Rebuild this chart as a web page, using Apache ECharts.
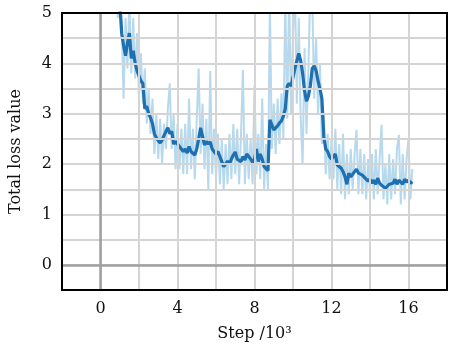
<!DOCTYPE html>
<html>
<head>
<meta charset="utf-8">
<script src="https://cdn.jsdelivr.net/npm/echarts@6/dist/echarts.min.js"></script>
<style>
  html, body { margin: 0; padding: 0; background: #fff; }
  #chart { width: 454px; height: 347px; }
</style>
</head>
<body>
<div id="chart"></div>
<script>
// step in thousands, loss values
const smoothStart = 1.0
const smoothLoss = [
  5.2, 4.6, 4.35, 4.15, 4.4, 4.6, 4.1, 4.25, 4.0, 3.85,
  3.75, 3.65, 3.6, 3.1, 3.15, 3.0, 2.92, 2.8, 2.6, 2.52,
  2.47, 2.42, 2.48, 2.5, 2.65, 2.72, 2.6, 2.65, 2.4, 2.45,
  2.42, 2.35, 2.32, 2.25, 2.3, 2.22, 2.35, 2.25, 2.28, 2.18,
  2.3, 2.5, 2.72, 2.55, 2.38, 2.45, 2.4, 2.44, 2.3, 2.25,
  2.2, 2.25, 2.15, 2.05, 1.95, 1.93, 2.06, 2.0, 2.1, 2.18,
  2.24, 2.1, 2.12, 2.05, 2.15, 2.08, 2.2, 2.18, 2.1, 2.04,
  2.1, 2.3, 2.05, 2.2, 2.1, 1.95, 1.92, 1.87, 2.88, 2.78,
  2.68, 2.72, 2.76, 2.82, 2.86, 2.95, 3.1, 3.55, 3.6, 3.55,
  3.72, 3.9, 4.05, 4.2, 4.05, 3.8, 3.45, 3.25, 3.35, 3.55,
  3.9, 3.95, 3.85, 3.65, 3.5, 3.3, 2.55, 2.3, 2.25, 2.15,
  2.1, 2.15, 2.2, 1.98, 2.0, 1.92, 1.85, 1.75, 1.6, 1.82,
  1.75, 1.72, 1.85, 1.9, 1.82, 1.8, 1.78, 1.75, 1.7, 1.66,
  1.7, 1.62, 1.68, 1.6, 1.72, 1.62, 1.58, 1.6, 1.52, 1.5,
  1.6, 1.58, 1.62, 1.7, 1.6, 1.68, 1.65, 1.6, 1.7, 1.64,
  1.68, 1.62, 1.65
]

const rawStart = 0.6
const rawLoss = [
  5.3, 5.0, 5.6, 4.9,
  5.5, 4.8, 3.3, 4.9, 3.9, 5.3, 3.8, 4.9, 3.7, 4.6,
  3.3, 4.2, 3.2, 3.9, 2.8, 3.5, 2.6, 3.3, 2.2, 3.0,
  2.1, 2.9, 2.0, 2.8, 2.3, 3.1, 3.6, 2.3, 3.0, 1.9,
  2.8, 1.9, 2.7, 1.8, 2.8, 1.8, 3.3, 1.9, 2.7, 1.7,
  2.9, 3.9, 2.2, 3.2, 1.9, 2.9, 1.5, 3.85, 1.8, 2.7,
  1.7, 2.6, 1.6, 2.5, 1.5, 2.4, 1.6, 2.6, 1.7, 2.8,
  1.8, 2.7, 1.6, 2.6, 3.87, 1.6, 2.6, 1.7, 2.5, 1.6,
  3.57, 1.8, 2.6, 1.7, 3.3, 1.5, 2.4, 1.5, 5.2, 2.3,
  3.2, 2.2, 3.3, 2.4, 3.4, 2.5, 5.3, 2.9, 5.4, 3.0,
  4.6, 5.5, 3.2, 4.9, 2.9, 2.0, 4.3, 2.6, 3.9, 5.5,
  5.3, 3.3, 4.5, 3.0, 4.0, 2.4, 3.0, 1.8, 2.6, 1.7,
  2.5, 1.7, 2.7, 1.5, 2.4, 1.4, 2.6, 1.3, 2.2, 1.4,
  2.3, 1.5, 2.2, 2.68, 1.4, 2.3, 1.4, 2.2, 1.3, 2.1,
  1.4, 2.2, 1.3, 2.3, 1.4, 2.1, 2.78, 1.3, 2.0, 1.2,
  2.2, 1.3, 2.1, 1.4, 2.3, 2.58, 1.2, 2.2, 1.3, 2.1,
  2.5, 1.3, 1.9
]

const toPairs = (start, vals) =>
  vals.map((v, i) => [+(start + i * 0.1).toFixed(2), v])

const chart = echarts.init(document.getElementById("chart"))
const font = "DejaVu Serif"
const textStyle = { fontFamily: font, fontSize: 16, color: "#111" }
const frameLine = { show: true, onZero: false, lineStyle: { color: "#000", width: 2 } }
const gridLine = { lineStyle: { color: "#d4d4d4", width: 2 } }

const option = {
  backgroundColor: "#fff",
  animation: false,
  grid: { left: 57, right: 7, top: 13, bottom: 57 },
  xAxis: [
    {
      type: "value",
      min: -2,
      max: 18,
      interval: 2,
      name: "Step /10³",
      nameLocation: "middle",
      nameGap: 36,
      nameTextStyle: textStyle,
      axisLine: frameLine,
      axisTick: { show: false },
      axisLabel: {
        ...textStyle,
        margin: 11,
        formatter: (v) => (v % 4 === 0 && v >= 0 && v <= 16 ? String(v) : ""),
      },
      splitLine: gridLine,
      z: 5,
    },
    {
      type: "value",
      position: "top",
      min: -2,
      max: 18,
      axisLine: frameLine,
      axisTick: { show: false },
      axisLabel: { show: false },
      splitLine: { show: false },
      z: 5,
    },
  ],
  yAxis: [
    {
      type: "value",
      min: -0.5,
      max: 5,
      interval: 0.5,
      name: "Total loss value",
      nameLocation: "middle",
      nameGap: 38,
      nameTextStyle: textStyle,
      axisLine: frameLine,
      axisTick: { show: false },
      axisLabel: {
        ...textStyle,
        margin: 10,
        formatter: (v) => (Number.isInteger(v) && v >= 0 ? String(v) : ""),
      },
      splitLine: gridLine,
      z: 5,
    },
    {
      type: "value",
      position: "right",
      min: -0.5,
      max: 5,
      axisLine: frameLine,
      axisTick: { show: false },
      axisLabel: { show: false },
      splitLine: { show: false },
      z: 5,
    },
  ],
  series: [
    {
      name: "raw",
      type: "line",
      data: toPairs(rawStart, rawLoss),
      showSymbol: false,
      clip: true,
      lineStyle: { color: "#a9d2ea", width: 2, opacity: 0.85 },
      markLine: {
        silent: true,
        symbol: "none",
        label: { show: false },
        lineStyle: { color: "#a0a0a0", width: 2.5, type: "solid" },
        data: [{ xAxis: 0 }, { yAxis: 0 }],
      },
      z: 2,
    },
    {
      name: "smoothed",
      type: "line",
      data: toPairs(smoothStart, smoothLoss),
      showSymbol: false,
      clip: true,
      lineStyle: { color: "#1f70b0", width: 3.2 },
      z: 3,
    },
  ],
}

chart.setOption(option)
</script>
</body>
</html>
